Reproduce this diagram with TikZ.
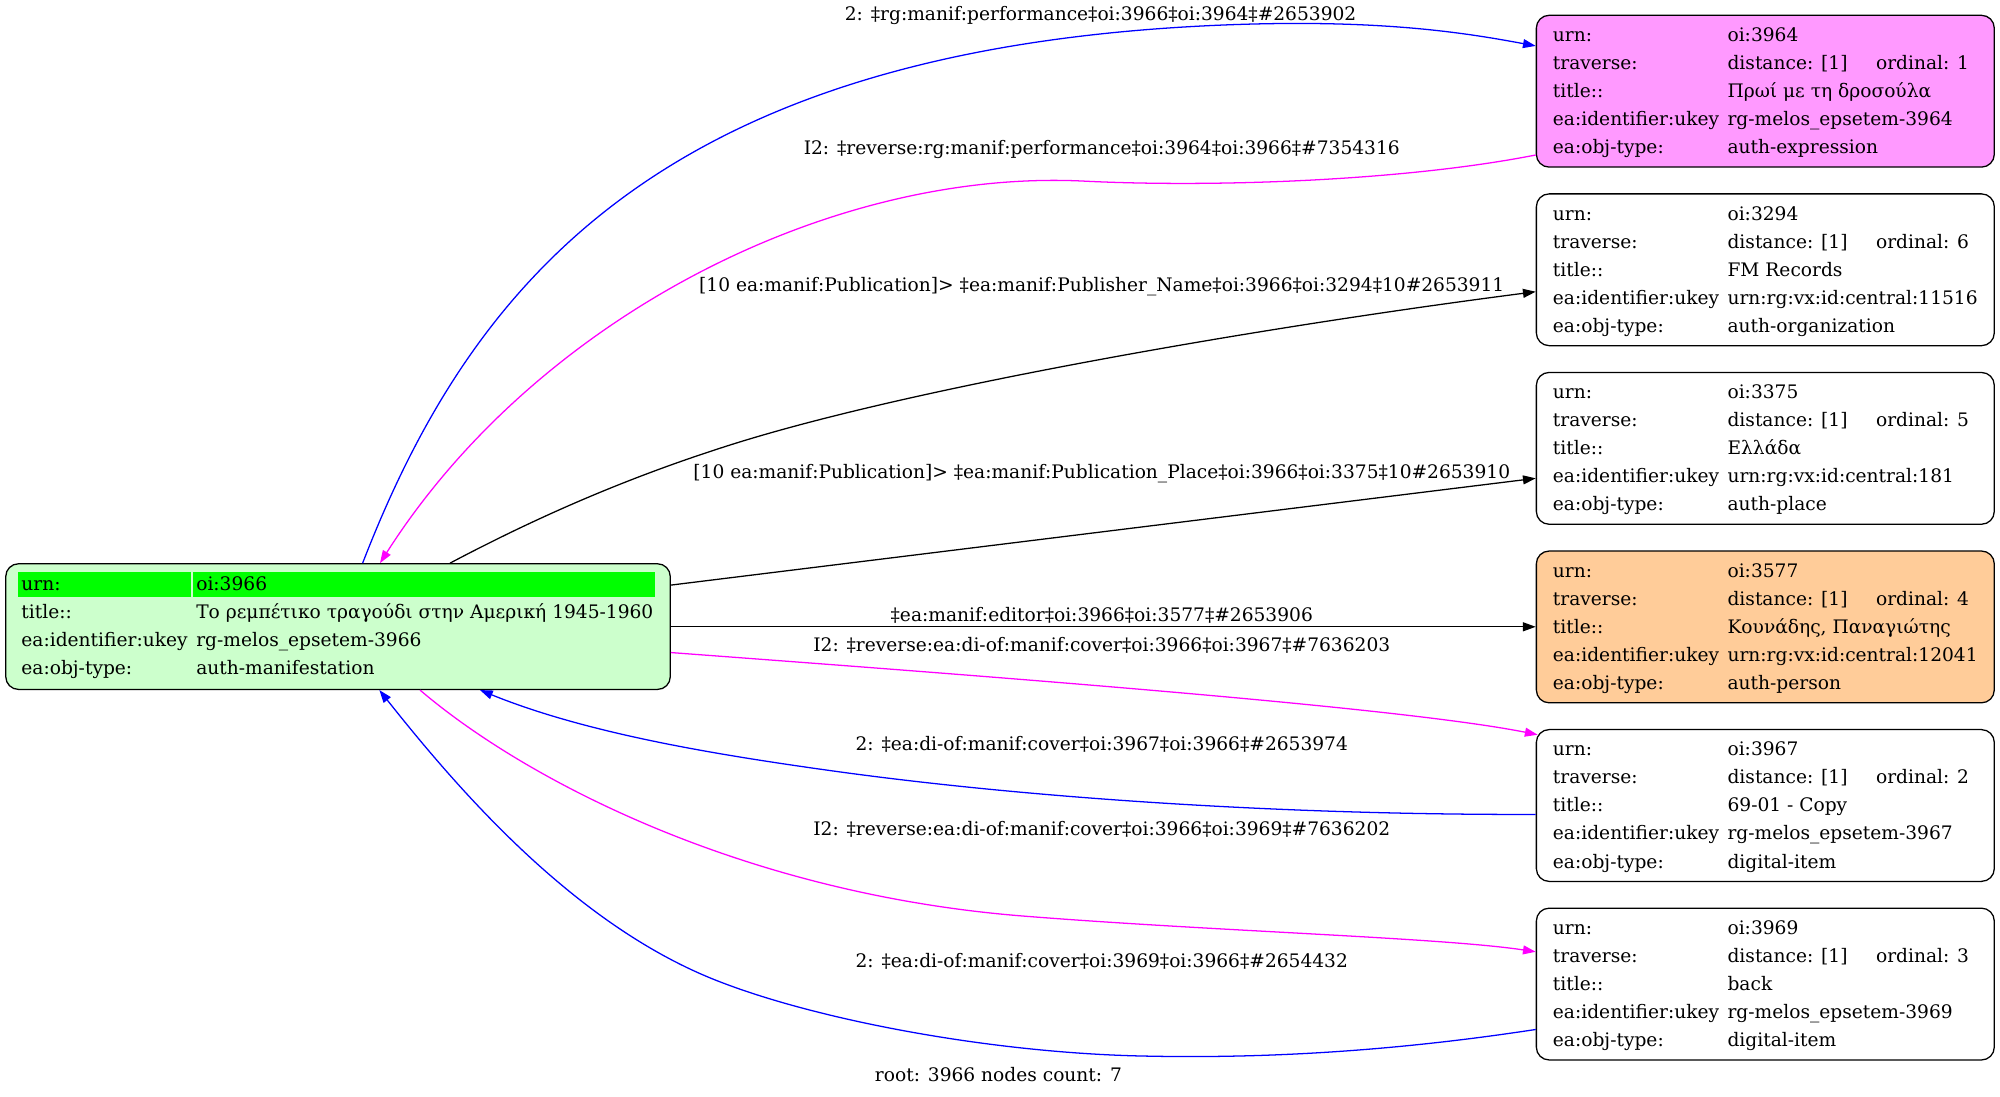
\documentclass[tikz,border=0pt]{standalone}
\usepackage{fontspec}
\setmainfont{DejaVu Serif}
\usetikzlibrary{arrows.meta,calc}
\definecolor{pinkfill}{HTML}{FF99FF}
\definecolor{orangefill}{HTML}{FFCC99}
\definecolor{lgreen}{HTML}{CCFFCC}
\definecolor{hgreen}{HTML}{00FF00}
\definecolor{eblue}{HTML}{0000FF}
\definecolor{emag}{HTML}{FF00FF}
\newcommand{\gvfont}{\fontsize{14.6pt}{17pt}\selectfont}
\tikzset{
  recbox/.style={draw=black, line width=1pt, rounded corners=10pt, anchor=north west, inner sep=0pt},
  cell/.style={anchor=base west, inner sep=0pt, font=\gvfont},
  elabel/.style={anchor=base, inner sep=0pt, font=\gvfont},
  conn/.style={line width=1pt, -{Triangle[length=10pt,width=7pt]}},
}
% #1 name, #2 top, #3 fill, #4 urn, #5 ordinal, #6 title, #7 ukey, #8 type
\newcommand{\recnode}[8]{%
  \node[recbox, fill=#3, minimum width=359pt, minimum height=119pt] (#1) at (1204,#2) {};
  \node[cell] (#1-k1) at (1217.3,{#2+21}) {urn:};
  \node[cell] (#1-v1) at (1354.2,{#2+21}) {#4};
  \node[cell] (#1-k2) at (1217.3,{#2+43}) {traverse:};
  \node[cell] (#1-v2) at (1354.2,{#2+43}) {distance: [1]};
  \node[cell] (#1-o2) at (1470.6,{#2+43}) {ordinal: #5};
  \node[cell] (#1-k3) at (1217.3,{#2+65}) {title::};
  \node[cell] (#1-v3) at (1354.2,{#2+65}) {#6};
  \node[cell] (#1-k4) at (1217.3,{#2+87}) {ea:identifier:ukey};
  \node[cell] (#1-v4) at (1354.2,{#2+87}) {#7};
  \node[cell] (#1-k5) at (1217.3,{#2+109}) {ea:obj-type:};
  \node[cell] (#1-v5) at (1354.2,{#2+109}) {#8};
}
\begin{document}
\begin{tikzpicture}[x=1pt,y=-1pt]
\fill[white] (0,0) rectangle (1568,860);
\useasboundingbox (0,0) rectangle (1568,860);

% main node
\node[recbox, fill=lgreen, minimum width=521pt, minimum height=98.5pt] (m) at (4,441.5) {};
\fill[hgreen] (14.5,448.4) rectangle (149.7,468);
\fill[hgreen] (151.2,448.4) rectangle (513.8,468);
\node[cell] (m-k1) at (16.6,462.6) {urn:};
\node[cell] (m-v1) at (153.7,462.6) {oi:3966};
\node[cell] (m-k2) at (16.6,484.6) {title::};
\node[cell] (m-v2) at (153.7,484.6) {Το ρεμπέτικο τραγούδι στην Αμερική 1945-1960};
\node[cell] (m-k3) at (16.6,506.6) {ea:identifier:ukey};
\node[cell] (m-v3) at (153.7,506.6) {rg-melos\_epsetem-3966};
\node[cell] (m-k4) at (16.6,528.6) {ea:obj-type:};
\node[cell] (m-v4) at (153.7,528.6) {auth-manifestation};

% right column
\recnode{n3964}{11.5}{pinkfill}{oi:3964}{1}{Πρωί με τη δροσούλα}{rg-melos\_epsetem-3964}{auth-expression}
\recnode{n3294}{151.5}{white}{oi:3294}{6}{FM Records}{urn:rg:vx:id:central:11516}{auth-organization}
\recnode{n3375}{291.5}{white}{oi:3375}{5}{Ελλάδα}{urn:rg:vx:id:central:181}{auth-place}
\recnode{n3577}{431.5}{orangefill}{oi:3577}{4}{Κουνάδης, Παναγιώτης}{urn:rg:vx:id:central:12041}{auth-person}
\recnode{n3967}{571.5}{white}{oi:3967}{2}{69-01 - Copy}{rg-melos\_epsetem-3967}{digital-item}
\recnode{n3969}{711.5}{white}{oi:3969}{3}{back}{rg-melos\_epsetem-3969}{digital-item}

% connector end points on node borders
\coordinate (e1s) at ($(m.north west)+(280.3,0)$);
\coordinate (e1e) at ($(n3964.north west)+(0,24.5)$);
\coordinate (e2s) at ($(n3964.north west)+(0,110)$);
\coordinate (e2e) at ($(m.north west)+(293.9,0)$);
\coordinate (e3s) at ($(m.north west)+(348.8,0)$);
\coordinate (e3e) at ($(n3294.north west)+(0,77.2)$);
\coordinate (e4s) at ($(m.north east)+(0,17.2)$);
\coordinate (e4e) at ($(n3375.north west)+(0,83.5)$);
\coordinate (e5s) at ($(m.north east)+(0,49.9)$);
\coordinate (e5e) at ($(n3577.north west)+(0,59.9)$);
\coordinate (e6s) at ($(m.north east)+(0,70.1)$);
\coordinate (e6e) at ($(n3967.north west)+(1.5,4.5)$);
\coordinate (e7s) at ($(n3967.north west)+(0,67)$);
\coordinate (e7e) at ($(m.south west)+(372.3,0)$);
\coordinate (e8s) at ($(m.south west)+(325.3,0)$);
\coordinate (e8e) at ($(n3969.north west)+(0,34.7)$);
\coordinate (e9s) at ($(n3969.north west)+(0,95.6)$);
\coordinate (e9e) at ($(m.south west)+(293.4,0)$);

% connectors
\draw[conn, eblue] (e1s) .. controls (370,220) and (520,40) .. (950,20)
                        .. controls (1080,14) and (1150,26) .. (e1e);
\draw[conn, emag] (e2s) .. controls (1100,142) and (950,147) .. (850,142)
                       .. controls (650,132) and (420,250) .. (e2e);
\draw[conn, black] (e3s) .. controls (420,406) and (490,375) .. (572.3,348.9)
                        .. controls (720,302) and (1000,255) .. (e3e);
\draw[conn, black] (e4s) -- (e4e);
\draw[conn, black] (e5s) -- (e5e);
\draw[conn, emag] (e6s) .. controls (800,532) and (1100,555) .. (e6e);
\draw[conn, eblue] (e7s) .. controls (1000,639) and (800,625) .. (650,604)
                        .. controls (560,591.4) and (460,575) .. (e7e);
\draw[conn, emag] (e8s) .. controls (410,610) and (580,700) .. (800,718)
                       .. controls (950,730) and (1130,735) .. (e8e);
\draw[conn, eblue] (e9s) .. controls (1100,823) and (1000,830) .. (900,828)
                        .. controls (780,826) and (640,800) .. (560,768)
                        .. controls (450,724) and (360,620) .. (e9e);

% edge labels
\node[elabel] (l1) at (862.9,15.7) {2: ‡rg:manif:performance‡oi:3966‡oi:3964‡\#2653902};
\node[elabel] (l2) at (863.8,121.5) {I2: ‡reverse:rg:manif:performance‡oi:3964‡oi:3966‡\#7354316};
\node[elabel] (l3) at (863.8,228.2) {[10 ea:manif:Publication]> ‡ea:manif:Publisher\_Name‡oi:3966‡oi:3294‡10\#2653911};
\node[elabel] (l4) at (863.8,375) {[10 ea:manif:Publication]> ‡ea:manif:Publication\_Place‡oi:3966‡oi:3375‡10\#2653910};
\node[elabel] (l5) at (863.8,487.4) {‡ea:manif:editor‡oi:3966‡oi:3577‡\#2653906};
\node[elabel] (l6) at (863.8,510.4) {I2: ‡reverse:ea:di-of:manif:cover‡oi:3966‡oi:3967‡\#7636203};
\node[elabel] (l7) at (863.8,588.3) {2: ‡ea:di-of:manif:cover‡oi:3967‡oi:3966‡\#2653974};
\node[elabel] (l8) at (863.8,655) {I2: ‡reverse:ea:di-of:manif:cover‡oi:3966‡oi:3969‡\#7636202};
\node[elabel] (l9) at (863.8,758.7) {2: ‡ea:di-of:manif:cover‡oi:3969‡oi:3966‡\#2654432};
\node[elabel] (root) at (782.8,847.6) {root: 3966 nodes count: 7};
\end{tikzpicture}
\end{document}
